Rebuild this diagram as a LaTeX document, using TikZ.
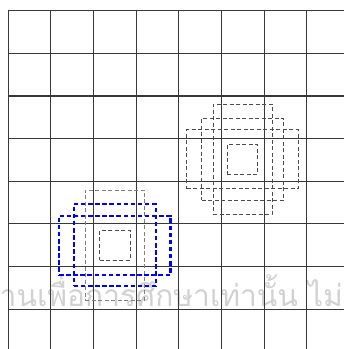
\documentclass[tikz,border=0pt]{standalone}
\usepackage{fontspec}
\newfontfamily\thaifont[Script=Thai]{Loma}
\tikzset{
  gridline/.style={line width=1.1pt, draw=black!78},
  thindash/.style={draw=black!70, line width=0.8pt, dash pattern=on 4pt off 2.5pt, inner sep=0pt, fill=none},
  lightdash/.style={draw=black!50, line width=0.8pt, dash pattern=on 4pt off 2.5pt, inner sep=0pt, fill=none},
  bluedash/.style={draw=blue, line width=2.2pt, dash pattern=on 4.5pt off 2.6pt, inner sep=0pt, fill=none},
  tallbox/.style={minimum width=59pt, minimum height=110.5pt},
  squarebox/.style={minimum width=82pt, minimum height=82pt},
  widebox/.style={minimum width=111.5pt, minimum height=59pt},
  innerbox/.style={minimum width=30.5pt, minimum height=29.5pt},
  watermark/.style={text=black!18, font=\thaifont\fontsize{30}{30}\selectfont, inner sep=0pt}
}
\begin{document}
\begin{tikzpicture}[x=1pt,y=-1pt]
\useasboundingbox (0,0) rectangle (344,349);
\begin{scope}
\clip (0,0) rectangle (344,349);
% watermark
\node[watermark, anchor=base west] (wm) at (-0.5,306) {\makebox[0pt][r]{ง}านเพื่อการศึกษาเท่านั้น ไม่อนุญาต};
% grid
\foreach \i in {0,...,7} {
  \draw[gridline] ({8.3+42.63*\i},10.7) -- ({8.3+42.63*\i},349);
  \draw[gridline] (8.3,{10.7+42.63*\i}) -- (344,{10.7+42.63*\i});
}
% top-right group
\coordinate (cB) at (242.5,159.3);
\node[thindash, tallbox] (bT) at (cB) {};
\node[thindash, squarebox] (bS) at (cB) {};
\node[thindash, widebox] (bW) at (cB) {};
\node[thindash, innerbox] (bI) at (cB) {};
% lower-left group
\coordinate (cA) at (114.8,245.2);
\node[lightdash, tallbox] (aT) at (cA) {};
\node[thindash, innerbox] (aI) at (cA) {};
\node[bluedash, squarebox] (aS) at (cA) {};
\node[bluedash, widebox] (aW) at (cA) {};
\end{scope}
\end{tikzpicture}
\end{document}
